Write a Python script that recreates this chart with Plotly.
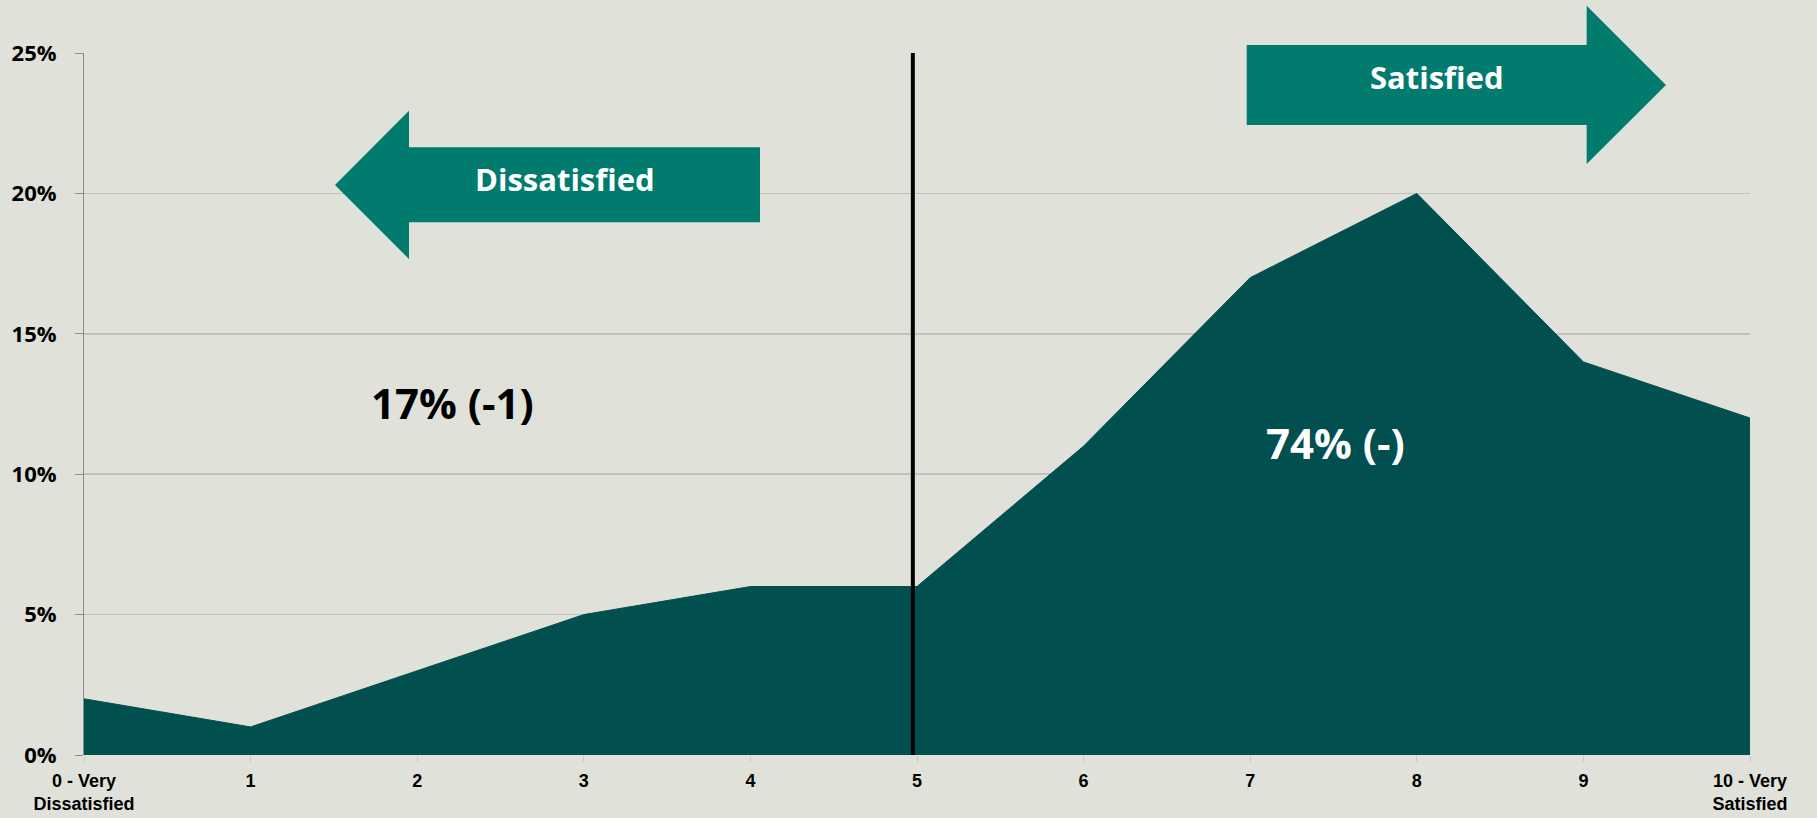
import plotly.graph_objects as go

# ---- data ----
categories = [0, 1, 2, 3, 4, 5, 6, 7, 8, 9, 10]
category_labels = ["0 - Very<br>Dissatisfied", "1", "2", "3", "4", "5", "6", "7", "8", "9",
                   "10 - Very<br>Satisfied"]
share = [0.02, 0.01, 0.03, 0.05, 0.06, 0.06, 0.11, 0.17, 0.20, 0.14, 0.12]
y_ticks = [0, 0.05, 0.10, 0.15, 0.20, 0.25]
y_tick_labels = ["0%", "5%", "10%", "15%", "20%", "25%"]
divider_at = 4.975
dissatisfied_total = "17% (-1)"
satisfied_total = "74% (-)"

BG = "#E0E1D9"
AREA = "#024F50"
ARROW = "#007B6E"

W, H = 1817, 818
PLOT_L, PLOT_R, PLOT_T, PLOT_B = 84, 1750, 53, 755
ML, MT, MR, MB = PLOT_L, PLOT_T, W - PLOT_R, H - PLOT_B
PW, PH = PLOT_R - PLOT_L, PLOT_B - PLOT_T


def px(x, y):
    return (x - PLOT_L) / PW, (PLOT_B - y) / PH


def path(points):
    pts = [px(x, y) for x, y in points]
    return "M " + " L ".join(f"{a:.5f},{b:.5f}" for a, b in pts) + " Z"


fig = go.Figure()
fig.add_trace(go.Scatter(
    x=categories, y=share, mode="lines", fill="tozeroy",
    line=dict(color=AREA, width=1), fillcolor=AREA, hoverinfo="skip",
    showlegend=False,
))

shapes = [
    dict(type="line", xref="x", yref="y", x0=divider_at, x1=divider_at, y0=0, y1=0.25,
         line=dict(color="black", width=4), layer="above"),
    dict(type="path", xref="paper", yref="paper",
         path=path([(335, 185), (409, 110.7), (409, 147.3), (760, 147.3), (760, 222.3),
                    (409, 222.3), (409, 259)]),
         fillcolor=ARROW, line=dict(width=0), layer="above"),
    dict(type="path", xref="paper", yref="paper",
         path=path([(1246.7, 45), (1586.7, 45), (1586.7, 5.7), (1666, 85), (1586.7, 164),
                    (1586.7, 125), (1246.7, 125)]),
         fillcolor=ARROW, line=dict(width=0), layer="above"),
]


def ann(text, x, y, color, size):
    ax, ay = px(x, y)
    return dict(text=f"<b>{text}</b>", x=ax, y=ay, xref="paper", yref="paper",
                showarrow=False, xanchor="center", yanchor="middle",
                font=dict(family="Open Sans", size=size, color=color))


annotations = [
    ann("Dissatisfied", 565, 179, "white", 31),
    ann("Satisfied", 1437, 77, "white", 31),
    ann(dissatisfied_total, 452, 402, "black", 42),
    ann(satisfied_total, 1335, 442, "white", 42),
]

fig.update_layout(
    width=W, height=H,
    margin=dict(l=ML, r=MR, t=MT, b=MB, pad=0, autoexpand=False),
    paper_bgcolor=BG, plot_bgcolor=BG,
    shapes=shapes, annotations=annotations,
    xaxis=dict(range=[0, 10], tickmode="array", tickvals=categories, ticktext=category_labels,
               automargin=False,
               showgrid=False, zeroline=False, showline=False,
               ticks="outside", ticklen=6, tickcolor="#C8C8C8", tickwidth=1,
               ticklabelstandoff=3,
               tickfont=dict(family="Liberation Sans", size=18, color="black", weight="bold")),
    yaxis=dict(range=[0, 0.25], tickmode="array", tickvals=y_ticks, ticktext=y_tick_labels,
               automargin=False,
               showgrid=True, gridcolor="#C0C0C0", gridwidth=1.5, zeroline=False,
               showline=True, linecolor="#8C8C8C", linewidth=1,
               ticks="outside", ticklen=8, tickcolor="#8C8C8C", tickwidth=1,
               ticklabelstandoff=14,
               tickfont=dict(family="Open Sans", size=22, color="black", weight="bold")),
)

fig.write_html(
    "out.html",
    config={"displayModeBar": False, "staticPlot": True},
    post_script=(
        "var s=document.createElement('style');"
        "s.textContent='html,body{margin:0;padding:0;overflow:hidden;height:818px;background:%s;}"
        ".plotly-graph-div{line-height:0;}"
        ".svg-container{display:block !important;vertical-align:top;}';"
        "document.head.appendChild(s);" % BG
    ),
)
